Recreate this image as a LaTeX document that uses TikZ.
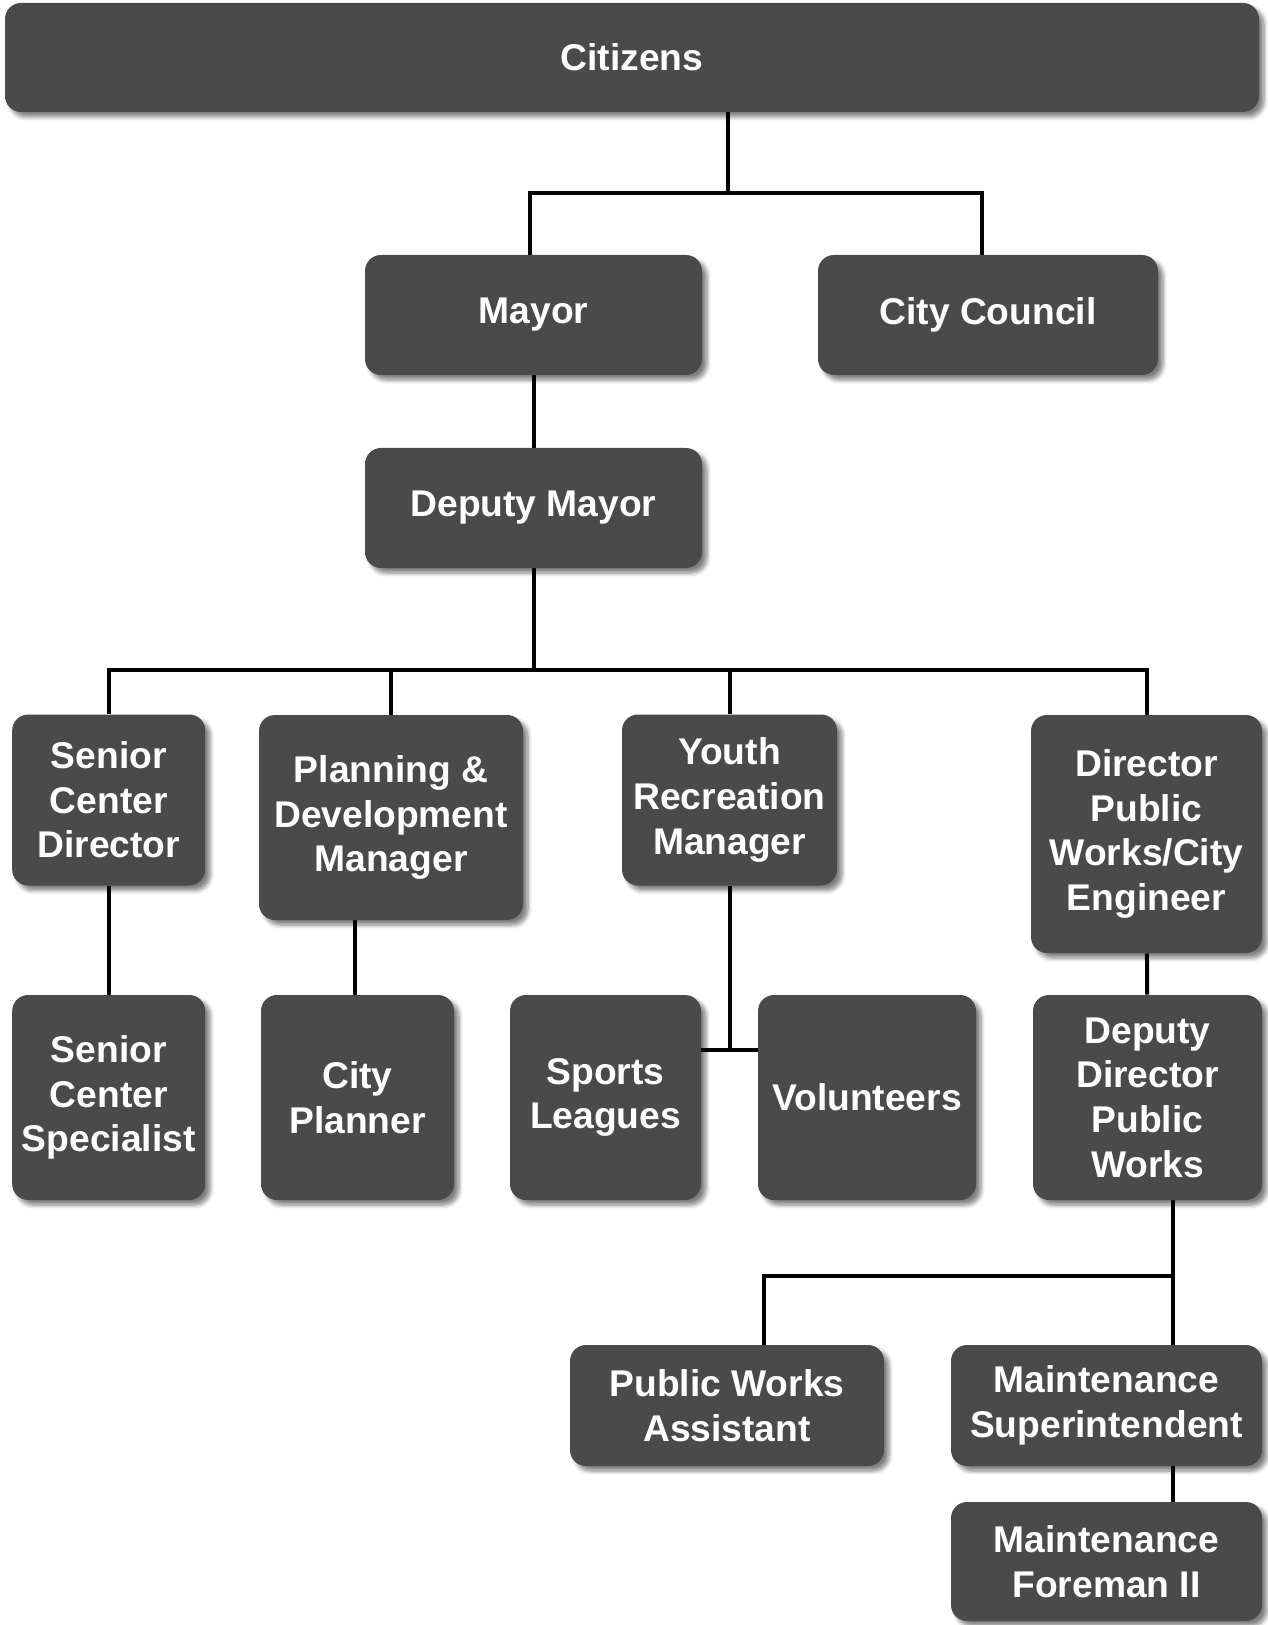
\documentclass[tikz,border=0pt]{standalone}
\usepackage{fontspec}
\setmainfont{Liberation Sans}
\usetikzlibrary{shadows.blur,backgrounds}
\definecolor{boxfill}{RGB}{74,74,74}
\begin{document}
\begin{tikzpicture}[x=0.5pt,y=-0.5pt,
  box/.style={draw=none,fill=boxfill,rounded corners=8pt,inner sep=0pt,
    text=white,font=\bfseries\fontsize{18.6}{22.3}\selectfont,align=center,
    blur shadow={shadow xshift=2.5pt,shadow yshift=-2.5pt,shadow blur steps=6,shadow opacity=50}},
  conn/.style={draw=black,line width=2pt}]
\useasboundingbox (0,0) rectangle (1267,1625);
\node[box,minimum width=627pt,minimum height=54.5pt] (cit) at (632,57.5) {Citizens};
\node[box,minimum width=168.5pt,minimum height=60pt] (mayor) at (533.5,315) {Mayor};
\node[box,minimum width=170pt,minimum height=60pt] (council) at (988,315) {City Council};
\node[box,minimum width=168.5pt,minimum height=60pt] (dmayor) at (533.5,508) {Deputy Mayor};
\node[box,minimum width=96.5pt,minimum height=85.5pt] (scd) at (108.7,800) {Senior\\Center\\Director};
\node[box,minimum width=132pt,minimum height=102.5pt] (pdm) at (391,817.5) {Planning \&\\Development\\Manager};
\node[box,minimum width=107.5pt,minimum height=85.5pt] (yrm) at (729.5,800) {Youth\\Recreation\\Manager};
\node[box,minimum width=115.5pt,minimum height=119pt] (dpw) at (1146.5,834) {Director\\Public\\Works/City\\Engineer};
\node[box,minimum width=96.5pt,minimum height=102.5pt] (scs) at (108.7,1097.5) {Senior\\Center\\Specialist};
\node[box,minimum width=96.5pt,minimum height=102.5pt] (cp) at (357.5,1097.5) {City\\Planner};
\node[box,minimum width=95.5pt,minimum height=102.5pt] (sl) at (605.5,1097.5) {Sports\\Leagues};
\node[box,minimum width=109pt,minimum height=102.5pt] (vol) at (867,1097.5) {Volunteers};
\node[box,minimum width=114.5pt,minimum height=102.5pt] (ddpw) at (1147.5,1097.5) {Deputy\\Director\\Public\\Works};
\node[box,minimum width=157pt,minimum height=60.5pt] (pwa) at (727,1405.5) {Public Works\\Assistant};
\node[box,minimum width=155.5pt,minimum height=60.5pt] (ms) at (1106.5,1405.5) {Maintenance\\Superintendent};
\node[box,minimum width=155.5pt,minimum height=59.5pt] (mf) at (1106.5,1561.5) {Maintenance\\Foreman II};
\coordinate (j1) at (728,193);
\coordinate (j2) at (533.5,670);
\coordinate (j3) at (730,1049.5);
\coordinate (j4) at (1173,1276);
\coordinate (j5) at (763.5,1276);
\coordinate (j6) at (355,0);
\begin{scope}[on background layer]
\draw[conn] (cit.south -| j1) -- (j1);
\draw[conn] (mayor.north -| 530,0) |- (j1) -| (council.north -| 982,0);
\draw[conn] (mayor) -- (dmayor);
\draw[conn] (dmayor.south) -- (j2);
\draw[conn] (scd.north) |- (dpw.north |- j2) -- (dpw.north);
\draw[conn] (pdm.north) -- (pdm.north |- j2);
\draw[conn] (yrm.north) -- (yrm.north |- j2);
\draw[conn] (scd) -- (scs);
\draw[conn] (pdm.south -| j6) -- (cp.north -| j6);
\draw[conn] (yrm.south -| j3) -- (j3);
\draw[conn] (sl.east |- j3) -- (vol.west |- j3);
\draw[conn] (dpw) -- (ddpw);
\draw[conn] (ddpw.south -| j4) -- (ms.north -| j4);
\draw[conn] (j4) -- (j5) -- (pwa.north -| j5);
\draw[conn] (ms.south -| j4) -- (mf.north -| j4);
\end{scope}
\end{tikzpicture}
\end{document}
